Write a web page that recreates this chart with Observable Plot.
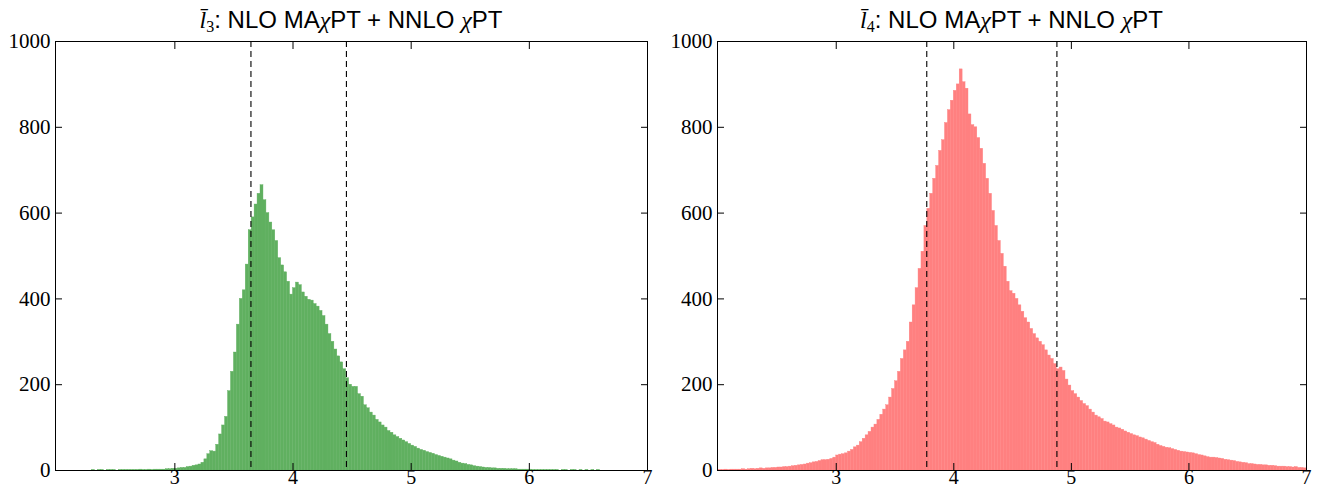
<!DOCTYPE html>
<html>
<head>
<meta charset="utf-8">
<script src="https://cdn.jsdelivr.net/npm/d3@7"></script>
<script src="https://cdn.jsdelivr.net/npm/@observablehq/plot@0.6"></script>
<style>
  html, body { margin: 0; padding: 0; background: #fff; }
  #wrap { position: relative; width: 1320px; height: 491px; overflow: hidden; }
  .panel { position: absolute; top: 0; width: 660px; height: 491px; }
  .title { position: absolute; top: 6px; text-align: center; font-family: "Liberation Sans", Arial, sans-serif; font-size: 24px; color: #000; white-space: nowrap; line-height: 28px; }
  .m { font-family: "Liberation Serif", serif; font-style: italic; }
  .title sub { font-family: "Liberation Serif", serif; font-size: 16px; vertical-align: -4px; line-height: 0; }
</style>
</head>
<body>
<div id="wrap">
  <div class="panel" id="left"></div>
  <div class="panel" id="right" style="left:660px"></div>
</div>
<script>
// ---- data ----
const binWidth = 0.025;

// l3 histogram: first bin starts at 2.30
const l3Start = 2.30;
const l3Counts = [
  1,0,1,1,0,1,1,1,0,1,1,1,1,1,1,1,2,1,1,2,1,2,2,2,2,3,3,4,
  4,5,6,6,     8,9,11,12,     14,18,26,38,    45,44,60,84,
  105,125,185,230, 275,340,400,420, 480,560,590,620, 645,665,630,600,
  578,560,535,495, 478,462,440,410, 425,438,432,415, 405,398,396,388,
  382,372,360,340, 318,300,282,266, 252,236,215,200, 195,195,178,172,
  152,145,135,128, 118,112,105,100, 92,88,82,78, 74,70,66,62,
  58,55,51,48, 46,43,41,39, 36,34,32,30, 28,26,23,21,
  18,16,15,13, 12,10,9,8, 7,6,6,5, 5,4,4,4,
  3,3,3,3, 2,2,2,2,
  2,1,1,1,1,1,1,1,1,1,0,1,1,0,1,1,0,1,0,1,0,1,0,1
];

// l4 histogram: first bin starts at 2.00
const l4Start = 2.00;
const l4Counts = [
  1,1,2,1, 2,2,2,2, 3,2,3,4, 3,4,5,4, 5,5,6,6, 7,7,8,8,
  9,10,11,12, 13,14,16,17, 19,20,22,24, 24,25,27,30,
  35,37,38,40, 44,48,54,58, 66,74,82,90, 100,107,118,130,
  142,152,170,190, 208,230,260,280, 300,345,385,425, 470,510,570,610,
  645,680,710,745, 770,810,840,862, 885,900,935,905, 890,830,805,800,
  775,750,715,680, 645,605,570,535, 505,475,440,418, 412,400,385,370,
  355,345,330,318, 308,300,292,280, 268,260,248,236, 240,232,212,198,
  185,178,170,162, 155,150,142,135, 128,124,120,114, 112,108,105,100,
  98,95,91,88, 85,82,80,77, 75,72,69,66, 64,60,57,55,
  53,52,50,48, 46,44,43,42, 41,40,38,36, 35,33,31,30,
  30,29,28,27, 25,24,23,22, 20,19,18,17, 15,15,14,13,
  13,12,12,11, 11,10,9,9, 9,8,8,7, 8,6,6,5
];

const l3Dashes = [3.644, 4.452];
const l4Dashes = [3.770, 4.877];

const xDomain = [1.99, 7];
const yDomain = [0, 1000];
const xTicks = [3, 4, 5, 6, 7];
const yTicks = [0, 200, 400, 600, 800, 1000];

function toBins(start, counts) {
  return counts.map((c, i) => ({
    x1: start + i * binWidth,
    x2: start + (i + 1) * binWidth,
    count: c
  }));
}

const fmt = d3.format("d");
const blank = () => "";

function panel(bins, color, dashes, ml, mr) {
  return Plot.plot({
    width: 660,
    height: 491,
    marginLeft: ml,
    marginRight: mr,
    marginTop: 41,
    marginBottom: 21,
    x: { domain: xDomain, label: null },
    y: { domain: yDomain, label: null },
    style: { fontFamily: "'Liberation Serif', serif", fontSize: "21px", background: "white", color: "black" },
    marks: [
      Plot.rectY(bins, { x1: "x1", x2: "x2", y: "count", fill: color, stroke: color, strokeWidth: 0.4, inset: 0 }),
      Plot.ruleX(dashes, { stroke: "black", strokeWidth: 1.1, strokeDasharray: "6,4" }),
      Plot.frame({ stroke: "black", strokeWidth: 1 }),
      Plot.axisX(xTicks, { anchor: "bottom", tickSize: 0, tickPadding: -1, fontSize: 20, tickFormat: fmt, label: null }),
      Plot.axisY(yTicks, { anchor: "left", tickSize: 0, tickPadding: 5, fontSize: 21, tickFormat: fmt, label: null }),
      Plot.axisX(xTicks, { anchor: "bottom", tickSize: -7, tickFormat: blank, label: null }),
      Plot.axisX(xTicks, { anchor: "top", tickSize: -7, tickFormat: blank, label: null }),
      Plot.axisY(yTicks, { anchor: "left", tickSize: -7, tickFormat: blank, label: null }),
      Plot.axisY(yTicks, { anchor: "right", tickSize: -7, tickFormat: blank, label: null })
    ]
  });
}

function addTitle(el, ml, mr, sub) {
  const t = document.createElement("div");
  t.className = "title";
  t.style.left = ml + "px";
  t.style.width = (660 - ml - mr) + "px";
  t.innerHTML = '<span class="m">l\u0304</span><sub>' + sub + '</sub>: NLO MA<span class="m">\u03c7</span>PT + NNLO <span class="m">\u03c7</span>PT';
  el.appendChild(t);
}

const leftEl = document.getElementById("left");
const rightEl = document.getElementById("right");
leftEl.appendChild(panel(toBins(l3Start, l3Counts), "#60b060", l3Dashes, 55, 13));
rightEl.appendChild(panel(toBins(l4Start, l4Counts), "#ff8080", l4Dashes, 57, 14));
addTitle(leftEl, 55, 13, "3");
addTitle(rightEl, 57, 14, "4");
</script>
</body>
</html>
